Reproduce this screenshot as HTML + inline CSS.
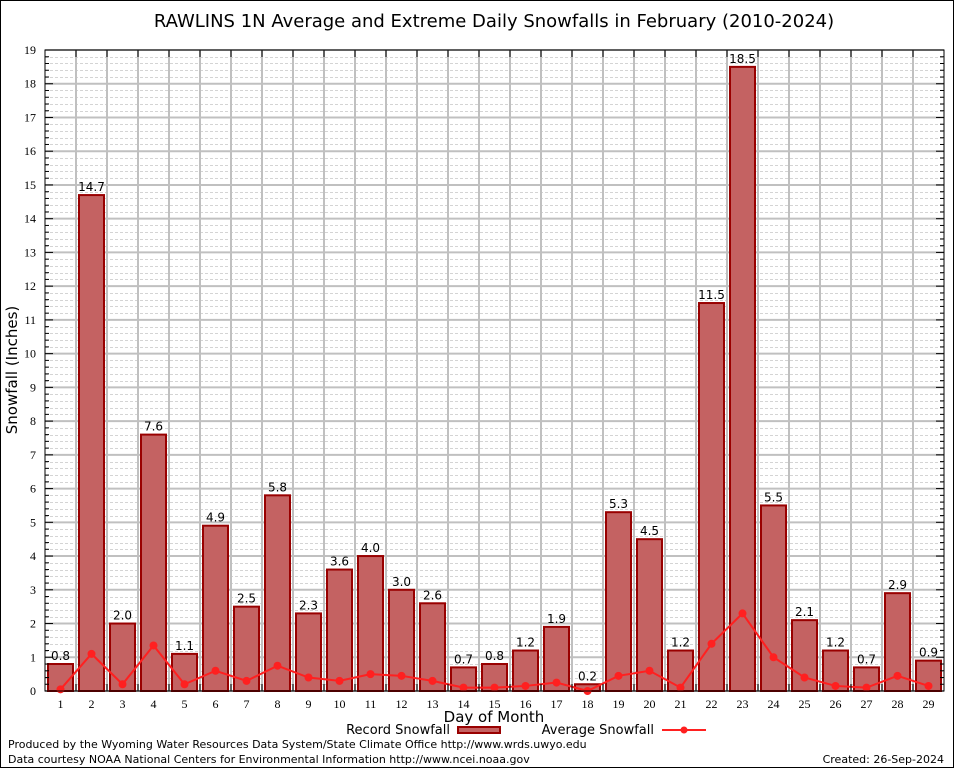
<!DOCTYPE html>
<html><head><meta charset="utf-8"><style>
html,body{margin:0;padding:0;background:#fff}
svg{display:block;font-family:"DejaVu Sans","Liberation Sans",sans-serif}
</style></head><body>
<svg id="c" width="954" height="768" viewBox="0 0 954 768" xmlns="http://www.w3.org/2000/svg">
<rect x="0.5" y="0.5" width="953" height="767" fill="#fff" stroke="#000"/>
<text x="494" y="27" font-size="18" text-anchor="middle">RAWLINS 1N Average and Extreme Daily Snowfalls in February (2010-2024)</text>
<g id="grid"></g>
<g id="bars"></g>
<g id="avg"></g>
<g id="axes"></g>
<text x="17" y="370" font-size="15" text-anchor="middle" transform="rotate(-90 17 370)">Snowfall (Inches)</text>
<text x="494" y="722" font-size="15" text-anchor="middle">Day of Month</text>
<g>
<text x="450" y="734" font-size="13" text-anchor="end">Record Snowfall</text>
<rect x="458" y="727" width="42" height="6" fill="#c46262" stroke="#990000" stroke-width="2"/>
<text x="654" y="734" font-size="13" text-anchor="end">Average Snowfall</text>
<line x1="662" y1="730" x2="706" y2="730" stroke="#ff2020" stroke-width="2"/>
<circle cx="684" cy="730" r="3.5" fill="#ff2020"/>
</g>
<text x="8" y="748" font-size="11">Produced by the Wyoming Water Resources Data System/State Climate Office http://www.wrds.uwyo.edu</text>
<text x="8" y="763" font-size="11">Data courtesy NOAA National Centers for Environmental Information http://www.ncei.noaa.gov</text>
<text x="944" y="763" font-size="11" text-anchor="end">Created: 26-Sep-2024</text>
</svg>
<script>
const days = [1,2,3,4,5,6,7,8,9,10,11,12,13,14,15,16,17,18,19,20,21,22,23,24,25,26,27,28,29];
const recordValues = [0.8,14.7,2.0,7.6,1.1,4.9,2.5,5.8,2.3,3.6,4.0,3.0,2.6,0.7,0.8,1.2,1.9,0.2,5.3,4.5,1.2,11.5,18.5,5.5,2.1,1.2,0.7,2.9,0.9];
const averageValues = [0.05,1.1,0.2,1.35,0.2,0.6,0.3,0.75,0.4,0.3,0.5,0.45,0.3,0.1,0.1,0.15,0.25,0.0,0.45,0.6,0.1,1.4,2.3,1.0,0.4,0.15,0.1,0.45,0.15];
const yTicks = [0,1,2,3,4,5,6,7,8,9,10,11,12,13,14,15,16,17,18,19];

const L=45,R=944,T=50,B=691,YMAX=19;
const step=(R-L)/days.length;
const x=d=>L+(d-0.5)*step;
const y=v=>B-(v/YMAX)*(B-T);
const NS='http://www.w3.org/2000/svg';
function mk(parent,tag,attrs){const e=document.createElementNS(NS,tag);for(const k in attrs)e.setAttribute(k,attrs[k]);document.getElementById(parent).appendChild(e);return e;}

for(let v=0;v<YMAX;v+=0.2){
  const yy=Math.round(y(v))+0.5;
  if(Math.abs(v-Math.round(v))<0.01) continue;
  const g=mk('grid','line',{x1:L,x2:R,y1:yy,y2:yy,stroke:'#d4d4d4','stroke-width':1,'stroke-dasharray':'3,2'});
  
  
}
yTicks.forEach(t=>{
  const g=mk('grid','line',{x1:L,x2:R,y1:y(t),y2:y(t),stroke:'#c0c0c0','stroke-width':2});
  
  
});
for(let i=1;i<days.length;i++){
  const xx=L+i*step;
  const g=mk('grid','line',{x1:xx,x2:xx,y1:T,y2:B,stroke:'#c0c0c0','stroke-width':2});
  
  
}

days.forEach((d,i)=>{
  const v=recordValues[i];
  const r=mk('bars','rect',{x:Math.round(x(d)-12.5),y:y(v),width:25,height:B-y(v),fill:'#c46262',stroke:'#990000','stroke-width':2});
  
  
  const t=mk('bars','text',{x:x(d),y:y(v)-4,'font-size':12,'text-anchor':'middle'});
  t.textContent=v.toFixed(1);
  
  
});

const pts=days.map((d,i)=>x(d)+','+y(averageValues[i])).join(' ');
const pl=mk('avg','polyline',{points:pts,fill:'none',stroke:'#ff2020','stroke-width':2});


days.forEach((d,i)=>{
  const c=mk('avg','circle',{cx:x(d),cy:y(averageValues[i]),r:4,fill:'#ff2020'});
  
  
});

const fr=mk('axes','rect',{x:L,y:T,width:R-L,height:B-T,fill:'none',stroke:'#000','stroke-width':1});


for(let v=0;v<=YMAX+0.001;v+=0.2){
  const major=Math.abs(v-Math.round(v))<0.01;
  const len=major?8:4;
  const a=mk('axes','line',{x1:L,x2:L+len,y1:y(v),y2:y(v),stroke:'#000'});
  
  
  const b=mk('axes','line',{x1:R,x2:R-len,y1:y(v),y2:y(v),stroke:'#000'});
  
  
}
yTicks.forEach(t=>{
  const tx=mk('axes','text',{x:L-9,y:y(t)+4,'font-size':12,'text-anchor':'end','font-family':'Liberation Serif, serif'});
  tx.textContent=t;
  
  
});
for(let i=1;i<days.length;i++){
  const xx=L+i*step;
  const a=mk('axes','line',{x1:xx,x2:xx,y1:B,y2:B-7,stroke:'#000'});
  
  
  const b=mk('axes','line',{x1:xx,x2:xx,y1:T,y2:T+7,stroke:'#000'});
  
  
}
days.forEach(d=>{
  const tx=mk('axes','text',{x:x(d),y:708,'font-size':12,'text-anchor':'middle','font-family':'Liberation Serif, serif'});
  tx.textContent=d;
  
  
});
</script>
</body></html>
